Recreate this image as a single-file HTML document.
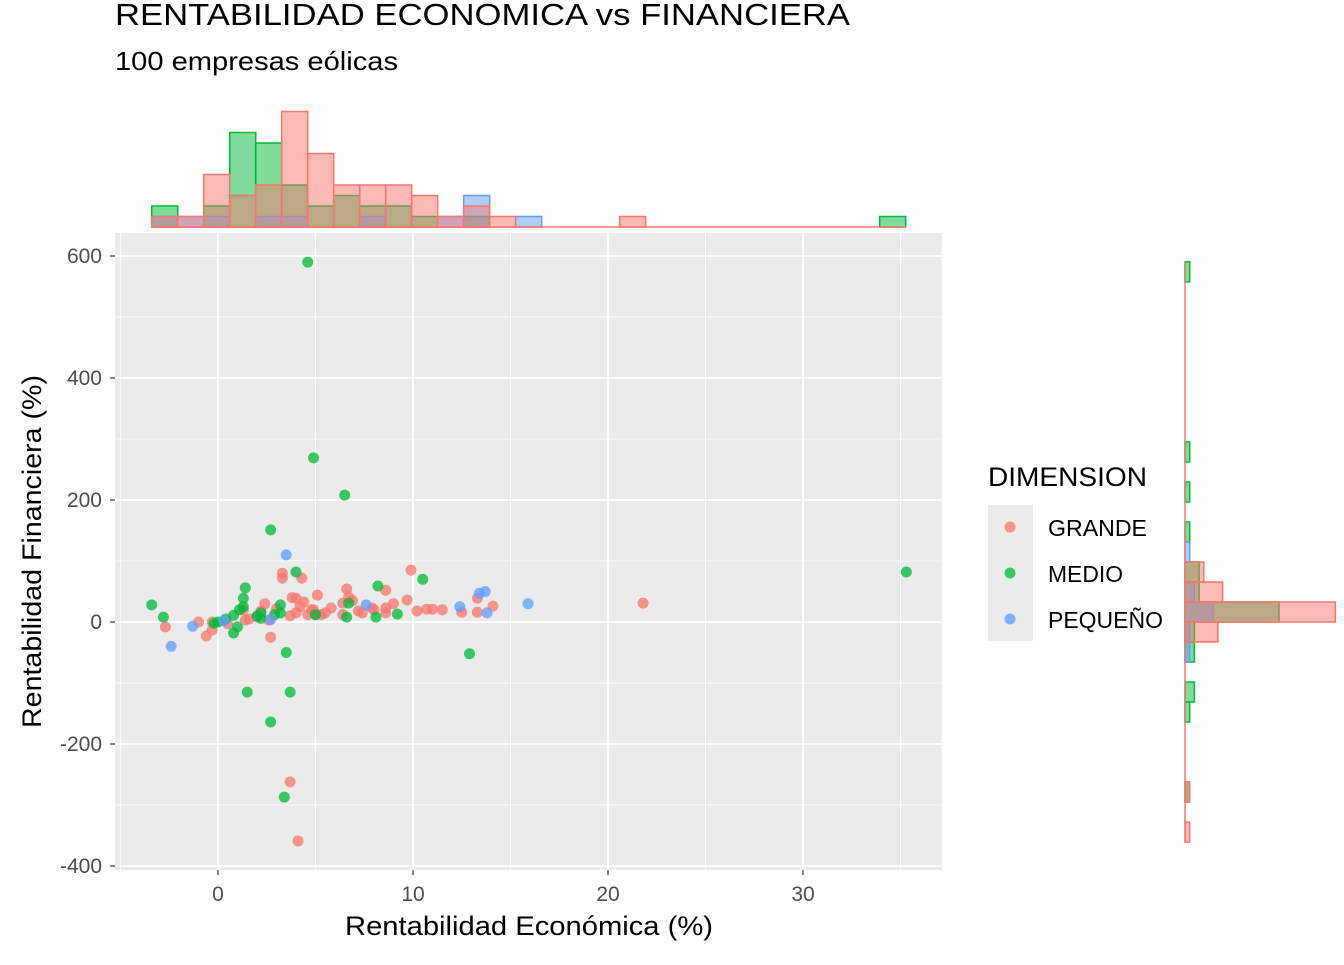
<!DOCTYPE html>
<html><head><meta charset="utf-8"><style>
body{margin:0;background:#fff;}
svg{font-family:"Liberation Sans",Arial,sans-serif;}
</style></head><body>
<svg id="c" width="1344" height="960" xmlns="http://www.w3.org/2000/svg">
<text x="115" y="25" font-size="31" textLength="735" lengthAdjust="spacingAndGlyphs" fill="#000">RENTABILIDAD ECONOMICA vs FINANCIERA</text>
<text x="115" y="70" font-size="26" textLength="283" lengthAdjust="spacingAndGlyphs" fill="#000">100 empresas eólicas</text>
<rect x="115" y="233" width="827" height="637" fill="#EBEBEB"/>
<g id="grid"></g><g id="axes"></g><g id="pts"></g><g id="topH"></g><g id="rightH"></g>
<text x="345" y="935" font-size="27" textLength="368" lengthAdjust="spacingAndGlyphs" fill="#000">Rentabilidad Económica (%)</text>
<text transform="translate(41,728) rotate(-90)" font-size="27" textLength="353" lengthAdjust="spacingAndGlyphs" fill="#000">Rentabilidad Financiera (%)</text>
<g>
<text x="988" y="486" font-size="27" textLength="159" lengthAdjust="spacingAndGlyphs">DIMENSION</text>
<rect x="988" y="505" width="45" height="136" fill="#EBEBEB"/>
<circle cx="1010" cy="527" r="5.5" fill="#F8766D" fill-opacity="0.75"/>
<circle cx="1010" cy="573" r="5.5" fill="#00BA38" fill-opacity="0.75"/>
<circle cx="1010" cy="619" r="5.5" fill="#619CFF" fill-opacity="0.75"/>
<text x="1048" y="536" font-size="23" textLength="99" lengthAdjust="spacingAndGlyphs">GRANDE</text>
<text x="1048" y="582" font-size="23" textLength="75" lengthAdjust="spacingAndGlyphs">MEDIO</text>
<text x="1048" y="628" font-size="23" textLength="115" lengthAdjust="spacingAndGlyphs">PEQUEÑO</text>
</g>
</svg>
<script>
const xTicks=[0,10,20,30];
const yTicks=[600,400,200,0,-200,-400];
const grandeX=[-2.7,-1.0,-0.6,-0.3,-0.3,1.3,1.4,2.4,2.7,2.6,3.3,3.3,4.3,3.7,4.0,4.4,4.2,4.6,4.9,5.1,5.0,5.3,5.8,6.6,6.7,6.4,6.4,7.4,7.9,8.6,8.6,8.6,9.7,9.9,10.2,10.7,11.0,12.5,13.3,13.3,14.1,21.8,3.7,4.1,2.0,0.5,3.0,4.8,7.2,1.6,2.2,5.5,4.0,6.9,8.0,9.0,11.5,3.8];
const grandeY=[-8,0,-23,-13,0,20,3,30,-25,3,80,72,72,10,39,33,25,12,20,44,12,12,23,54,41,31,12,15,23,52,23,15,36,85,18,21,21,16,16,39,26,31,-262,-359,8,-3,22,20,18,5,18,15,15,35,20,30,20,40];
const medioX=[-3.4,-2.8,1.4,1.3,1.3,0.8,0,1.0,0.8,2.2,2.2,3.2,3.2,4.0,3.5,6.7,6.6,8.2,10.5,8.1,9.2,12.9,35.3,4.6,4.9,6.5,2.7,1.5,3.7,2.7,3.4,-0.2,0.4,2.0,2.9,1.1,5.0];
const medioY=[28,8,56,39,25,11,0,-8,-18,15,6,28,15,82,-50,31,8,59,70,8,13,-52,82,590,269,208,151,-115,-115,-164,-287,-2,5,10,12,20,12];
const pequenoX=[3.5,-1.3,-2.4,0.3,2.7,7.6,12.4,13.4,13.7,13.8,15.9];
const pequenoY=[110,-7,-40,2,4,28,25,47,50,15,30];
// top histogram (bins start at -3.4, width 1.333)
const topGrande=[1,1,5,3,4,11,7,4,4,4,3,1,2,1,0,0,0,0,1,0,0,0,0,0,0,0,0,0,0];
const topMedio=[2,0,2,9,8,4,2,3,2,2,1,0,1,0,0,0,0,0,0,0,0,0,0,0,0,0,0,0,1];
const topPequeno=[1,1,1,0,1,1,0,0,1,0,0,1,3,0,1,0,0,0,0,0,0,0,0,0,0,0,0,0,0];
// right histogram: bin index k covers [k*32.8,(k+1)*32.8)
const rightBins=[-11,-10,-9,-8,-7,-6,-5,-4,-3,-2,-1,0,1,2,3,4,5,6,7,8,9,10,11,12,13,14,15,16,17];
const rightGrande=[1,0,1,0,0,0,0,0,0,0,7,32,8,4,0,0,0,0,0,0,0,0,0,0,0,0,0,0,0];
const rightMedio=[0,0,1,0,0,0,1,2,0,2,2,20,3,3,0,1,0,1,0,1,0,0,0,0,0,0,0,0,1];
const rightPequeno=[0,0,0,0,0,0,0,0,0,1,1,6,2,0,1,0,0,0,0,0,0,0,0,0,0,0,0,0,0];

const NS="http://www.w3.org/2000/svg";
const X=v=>218+v*19.5, Y=v=>622-v*0.61;
function mk(tag,attrs,parent){const e=document.createElementNS(NS,tag);for(const k in attrs)e.setAttribute(k,attrs[k]);parent.appendChild(e);return e;}
const grid=document.getElementById('grid'),axes=document.getElementById('axes');
[-5,5,15,25,35].forEach(v=>{const l=mk('line',{x1:X(v),x2:X(v),y1:233,y2:870,stroke:'#fff','stroke-width':0.8},grid);

});
[500,300,100,-100,-300].forEach(v=>{const l=mk('line',{x1:115,x2:942,y1:Y(v),y2:Y(v),stroke:'#fff','stroke-width':0.8},grid);

});
xTicks.forEach(v=>{const l=mk('line',{x1:X(v),x2:X(v),y1:233,y2:870,stroke:'#fff','stroke-width':1.8},grid);


const t=mk('line',{x1:X(v),x2:X(v),y1:870,y2:875,stroke:'#333','stroke-width':1.2},axes);


const tx=mk('text',{x:X(v),y:901,'font-size':21,'text-anchor':'middle',fill:'#4D4D4D'},axes);tx.textContent=v;

});
yTicks.forEach(v=>{const l=mk('line',{x1:115,x2:942,y1:Y(v),y2:Y(v),stroke:'#fff','stroke-width':1.8},grid);


const t=mk('line',{x1:110,x2:115,y1:Y(v),y2:Y(v),stroke:'#333','stroke-width':1.2},axes);


const tx=mk('text',{x:102,y:Y(v)+7,'font-size':21,'text-anchor':'end',fill:'#4D4D4D'},axes);tx.textContent=v;

});
const pts=document.getElementById('pts');
function drawPts(xs,ys,col,name){xs.forEach((x,i)=>{const c=mk('circle',{cx:X(x),cy:Y(ys[i]),r:5.5,fill:col,'fill-opacity':0.75},pts);

});}
drawPts(grandeX,grandeY,'#F8766D','point-grande');
drawPts(medioX,medioY,'#00BA38','point-medio');
drawPts(pequenoX,pequenoY,'#619CFF','point-pequeno');
const topH=document.getElementById('topH'),TB=227,TS=10.5,BW=1.3333,B0=-3.4;
function drawTop(cnt,col,name){cnt.forEach((n,i)=>{const x0=X(B0+i*BW),x1=X(B0+(i+1)*BW);
const r=mk('rect',{x:x0,y:TB-n*TS,width:x1-x0,height:n*TS,fill:col,'fill-opacity':0.5,stroke:col,'stroke-width':1.5},topH);

});}
drawTop(topMedio,'#00BA38','top-hist-bar-medio');
drawTop(topPequeno,'#619CFF','top-hist-bar-pequeno');
drawTop(topGrande,'#F8766D','top-hist-bar-grande');
const tl=mk('line',{x1:X(B0),x2:X(B0+topGrande.length*BW),y1:TB,y2:TB,stroke:'#F8766D','stroke-width':1.5},topH);


const rightH=document.getElementById('rightH'),RB=1185,RS=4.7,RW=32.8;
function drawRight(cnt,col,name){cnt.forEach((n,i)=>{const k=rightBins[i];const y0=Y((k+1)*RW),y1=Y(k*RW);
const r=mk('rect',{x:RB,y:y0,width:n*RS,height:y1-y0,fill:col,'fill-opacity':0.5,stroke:col,'stroke-width':1.5},rightH);

});}
drawRight(rightMedio,'#00BA38','right-hist-bar-medio');
drawRight(rightPequeno,'#619CFF','right-hist-bar-pequeno');
drawRight(rightGrande,'#F8766D','right-hist-bar-grande');
const rl=mk('line',{x1:RB,x2:RB,y1:Y((rightBins[rightBins.length-1]+1)*RW),y2:Y(rightBins[0]*RW),stroke:'#F8766D','stroke-width':1.5},rightH);


</script>
</body></html>
